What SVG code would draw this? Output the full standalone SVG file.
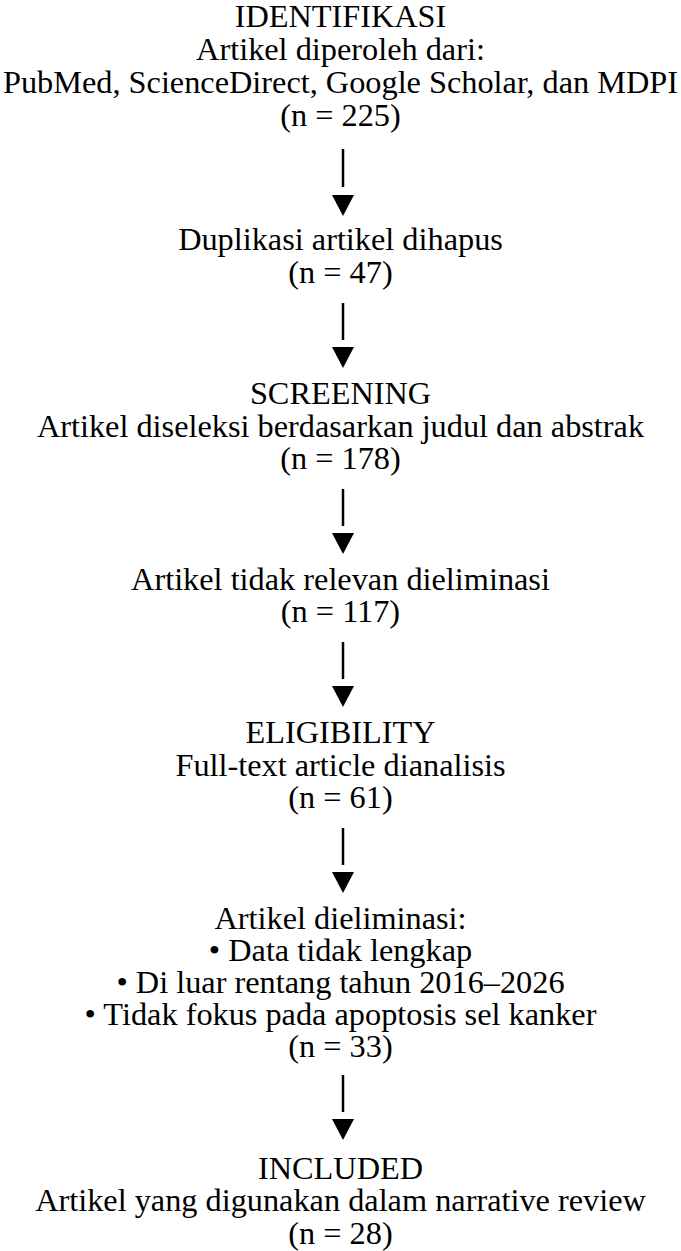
<svg xmlns="http://www.w3.org/2000/svg" width="681" height="1251" viewBox="0 0 681 1251">
<style>
text{font-family:"Liberation Serif","Times New Roman",serif;font-size:32.3px;fill:#000;text-anchor:middle}
.stem{stroke:#000;stroke-width:2.5}
.head{fill:#000}
</style>
<rect width="681" height="1251" fill="#fff"/>
<g id="identifikasi">
<text x="340.5" y="27">IDENTIFIKASI</text>
<text x="340.5" y="60">Artikel diperoleh dari:</text>
<text x="340.5" y="93">PubMed, ScienceDirect, Google Scholar, dan MDPI</text>
<text x="340.5" y="126">(n = 225)</text>
</g>
<g id="duplikasi">
<text x="340.5" y="250">Duplikasi artikel dihapus</text>
<text x="340.5" y="283">(n = 47)</text>
</g>
<g id="screening">
<text x="340.5" y="404">SCREENING</text>
<text x="340.5" y="437">Artikel diseleksi berdasarkan judul dan abstrak</text>
<text x="340.5" y="469">(n = 178)</text>
</g>
<g id="tidak-relevan">
<text x="340.5" y="590">Artikel tidak relevan dieliminasi</text>
<text x="340.5" y="622">(n = 117)</text>
</g>
<g id="eligibility">
<text x="340.5" y="743">ELIGIBILITY</text>
<text x="340.5" y="776">Full-text article dianalisis</text>
<text x="340.5" y="808">(n = 61)</text>
</g>
<g id="dieliminasi">
<text x="340.5" y="929">Artikel dieliminasi:</text>
<text x="340.5" y="961">• Data tidak lengkap</text>
<text x="340.5" y="993">• Di luar rentang tahun 2016–2026</text>
<text x="340.5" y="1025">• Tidak fokus pada apoptosis sel kanker</text>
<text x="340.5" y="1057">(n = 33)</text>
</g>
<g id="included">
<text x="340.5" y="1179">INCLUDED</text>
<text x="340.5" y="1211">Artikel yang digunakan dalam narrative review</text>
<text x="340.5" y="1244">(n = 28)</text>
</g>
<g id="connectors">
<line class="stem" x1="343" y1="149" x2="343" y2="187"/><polygon class="head" points="332,195 354,195 343,216"/>
<line class="stem" x1="343" y1="303" x2="343" y2="340"/><polygon class="head" points="332,347 354,347 343,368"/>
<line class="stem" x1="343" y1="489" x2="343" y2="526"/><polygon class="head" points="332,533 354,533 343,554"/>
<line class="stem" x1="343" y1="642" x2="343" y2="679"/><polygon class="head" points="332,686 354,686 343,707"/>
<line class="stem" x1="343" y1="828" x2="343" y2="865"/><polygon class="head" points="332,872 354,872 343,893"/>
<line class="stem" x1="343" y1="1075" x2="343" y2="1112"/><polygon class="head" points="332,1119 354,1119 343,1140"/>
</g>
</svg>
